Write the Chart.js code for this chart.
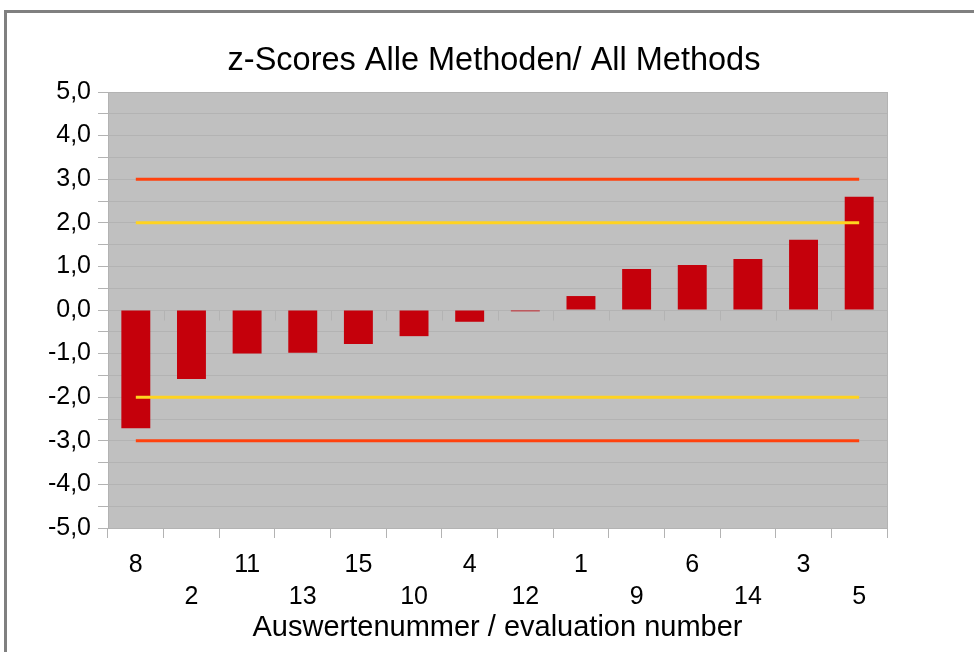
<!DOCTYPE html>
<html>
<head>
<meta charset="utf-8">
<script src="https://cdn.jsdelivr.net/npm/chart.js@4.4.0/dist/chart.umd.min.js"></script>
<style>
  html, body { margin: 0; padding: 0; background: #ffffff; }
  #wrap { width: 974px; height: 652px; position: relative; }
</style>
</head>
<body>
<div id="wrap"><canvas id="c" width="974" height="652"></canvas></div>
<script>
const categories = ['8', '2', '11', '13', '15', '10', '4', '12', '1', '9', '6', '14', '3', '5'];
const zScores = [-2.71, -1.58, -1.00, -0.98, -0.78, -0.60, -0.27, -0.03, 0.32, 0.94, 1.03, 1.17, 1.61, 2.60];
const upperAction = [3, 3, 3, 3, 3, 3, 3, 3, 3, 3, 3, 3, 3, 3];
const upperWarning = [2, 2, 2, 2, 2, 2, 2, 2, 2, 2, 2, 2, 2, 2];
const lowerWarning = [-2, -2, -2, -2, -2, -2, -2, -2, -2, -2, -2, -2, -2, -2];
const lowerAction = [-3, -3, -3, -3, -3, -3, -3, -3, -3, -3, -3, -3, -3, -3];
const titleText = 'z-Scores Alle Methoden/ All Methods';
const xTitleText = 'Auswertenummer / evaluation number';

const FONT = "'Liberation Sans', Arial, sans-serif";
const GRID = '#b3b3b3';

const decoPlugin = {
  id: 'deco',
  beforeDraw(chart) {
    const { ctx, chartArea: a } = chart;
    ctx.save();
    ctx.fillStyle = '#c0c0c0';
    ctx.fillRect(a.left, a.top, a.right - a.left, a.bottom - a.top);
    ctx.restore();
  },
  beforeDatasetsDraw(chart) {
    const { ctx, chartArea: a, scales } = chart;
    const x = scales.x, y = scales.y;
    const y0 = Math.round(y.getPixelForValue(0)) + 0.5;
    ctx.save();
    ctx.strokeStyle = GRID;
    ctx.lineWidth = 1;
    ctx.beginPath();
    for (let i = 1; i < categories.length; i++) {
      const px = Math.round(x.getPixelForValue(i - 0.5)) + 0.5;
      ctx.moveTo(px, y0);
      ctx.lineTo(px, y0 + 10);
    }
    ctx.moveTo(Math.round(a.right) + 0.5, a.top);
    ctx.lineTo(Math.round(a.right) + 0.5, a.bottom);
    ctx.stroke();
    ctx.restore();
  },
  afterDraw(chart) {
    const { ctx } = chart;
    ctx.save();
    ctx.strokeStyle = '#808080';
    ctx.lineWidth = 3;
    ctx.strokeRect(5.5, 11.5, 1000, 700);
    ctx.restore();
  }
};

new Chart(document.getElementById('c'), {
  type: 'bar',
  data: {
    labels: categories,
    datasets: [
      { type: 'line', data: upperAction, borderColor: '#ff420e', borderWidth: 3, pointRadius: 0, fill: false, order: 0 },
      { type: 'line', data: upperWarning, borderColor: '#ffd320', borderWidth: 3, pointRadius: 0, fill: false, order: 0 },
      { type: 'line', data: lowerWarning, borderColor: '#ffd320', borderWidth: 3, pointRadius: 0, fill: false, order: 0 },
      { type: 'line', data: lowerAction, borderColor: '#ff420e', borderWidth: 3, pointRadius: 0, fill: false, order: 0 },
      { type: 'bar', data: zScores, backgroundColor: '#c5000b', barPercentage: 0.52, categoryPercentage: 1.0, order: 1 }
    ]
  },
  options: {
    responsive: false,
    animation: false,
    layout: { padding: { left: 14, right: 0, top: 0, bottom: 0 } },
    plugins: {
      legend: { display: false },
      tooltip: { enabled: false },
      title: {
        display: true,
        text: titleText,
        color: '#000000',
        font: { family: FONT, size: 32.5, weight: 'normal' },
        padding: { top: 42, bottom: 11 }
      }
    },
    scales: {
      x: {
        offset: true,
        grid: { display: true, drawOnChartArea: false, drawTicks: true, tickLength: 10, color: GRID, offset: true },
        border: { display: true, color: GRID },
        ticks: {
          color: '#000000',
          font: { family: FONT, size: 25, lineHeight: 1.28 },
          padding: 11,
          maxRotation: 0,
          autoSkip: false,
          callback: function (v, i) { return i % 2 === 0 ? [categories[i]] : ['', categories[i]]; }
        },
        title: {
          display: true,
          text: xTitleText,
          color: '#000000',
          font: { family: FONT, size: 29, weight: 'normal' },
          padding: { top: 0, bottom: 7 }
        },
        afterFit(scale) { scale.height = 652 - 528; }
      },
      y: {
        min: -5,
        max: 5,
        grid: { color: GRID, drawTicks: true, tickLength: 10 },
        border: { display: true, color: GRID },
        ticks: {
          stepSize: 0.5,
          color: '#000000',
          font: { family: FONT, size: 25 },
          padding: 7,
          autoSkip: false,
          callback: function (v) {
            if (Math.abs(v - Math.round(v)) > 1e-6) return '';
            return v.toFixed(1).replace('.', ',');
          }
        },
        afterFit(scale) { scale.width = 108 - 14; }
      },
      yRightSpace: {
        position: 'right',
        display: true,
        grid: { display: false, drawOnChartArea: false },
        border: { display: false },
        ticks: { display: false },
        afterFit(scale) { scale.width = 87; }
      }
    }
  },
  plugins: [decoPlugin]
});
</script>
</body>
</html>
